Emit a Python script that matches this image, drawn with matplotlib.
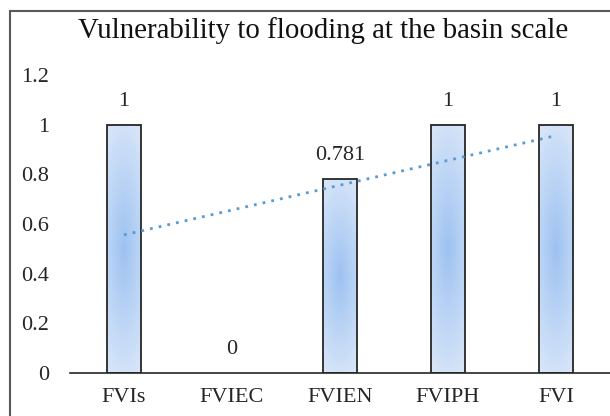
import numpy as np
import matplotlib.pyplot as plt
from matplotlib.colors import LinearSegmentedColormap
from matplotlib.patches import Rectangle

categories = ['FVIs', 'FVIEC', 'FVIEN', 'FVIPH', 'FVI']
values = [1, 0, 0.781, 1, 1]
value_labels = ['1', '0', '0.781', '1', '1']
title = 'Vulnerability to flooding at the basin scale'

plt.rcParams['font.family'] = ['Liberation Serif', 'DejaVu Serif']

fig = plt.figure(figsize=(6.1, 4.16), dpi=100)
ax = fig.add_axes([70 / 610, 43 / 416, 540 / 610, 298 / 416])

x = np.arange(len(categories))
bars = ax.bar(x, values, width=0.31, facecolor='none', edgecolor='#262626',
              linewidth=1.3, zorder=3)

# radial-ish gradient inside each bar
cmap = LinearSegmentedColormap.from_list('grad', ['#9dc2f1', '#bcd5f5', '#dbe7f9'])
gx, gy = np.meshgrid(np.linspace(-1, 1, 40), np.linspace(-1, 1, 200))
dist = np.sqrt(0.35 * gx ** 2 + gy ** 2)
dist = np.clip(dist / dist.max(), 0, 1)
for b in bars:
    h = b.get_height()
    if h <= 0:
        b.set_linewidth(0)
        continue
    x0 = b.get_x()
    ax.imshow(dist, cmap=cmap, extent=[x0, x0 + b.get_width(), 0, h],
              aspect='auto', origin='lower', zorder=2, vmin=0, vmax=1)

for xi, v, lab in zip(x, values, value_labels):
    ax.annotate(lab, (xi, v), xytext=(0, 10), textcoords='offset points',
                ha='center', va='bottom', fontsize=16, color='#262626')

# linear trendline
coef = np.polyfit(x, values, 1)
ax.plot(x, np.polyval(coef, x), color='#5b9bd5', linewidth=2,
        linestyle=(0, (1, 2.2)), zorder=4)

ax.set_xlim(-0.5, 4.5)
ax.set_ylim(0, 1.2)
ax.set_xticks(x)
ax.set_xticklabels(categories)
ax.set_yticks([0, 0.2, 0.4, 0.6, 0.8, 1, 1.2])
ax.set_yticklabels(['0', '0.2', '0.4', '0.6', '0.8', '1', '1.2'])
ax.tick_params(axis='both', length=0, labelsize=16, colors='#262626')
ax.tick_params(axis='y', pad=15)
ax.tick_params(axis='x', pad=11)
for s in ['top', 'right', 'left']:
    ax.spines[s].set_visible(False)
ax.spines['bottom'].set_color('#262626')
ax.spines['bottom'].set_linewidth(1.2)

fig.text(323 / 610, 1 - 31 / 416, title, ha='center', va='center',
         fontsize=20.8, color='#111111')

# outer chart border
fig.patches.append(Rectangle((10 / 610, -0.1), 1.2, 1 - 11 / 416 + 0.1,
                             transform=fig.transFigure, fill=False,
                             edgecolor='#595959', linewidth=1.5))

fig.savefig('out.png', dpi=100)
